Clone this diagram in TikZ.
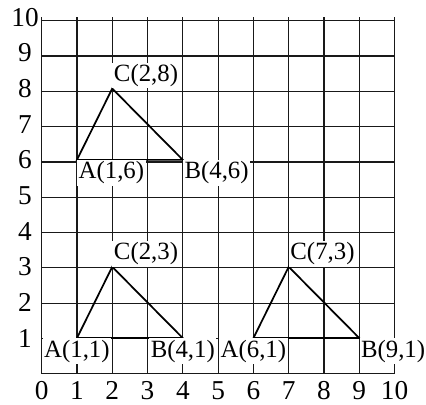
\documentclass[tikz,border=0pt]{standalone}
\usepackage{fontspec}
\setmainfont{Liberation Serif}
\usetikzlibrary{positioning}
\tikzset{
	gridline/.style={line width=1pt, draw=black!90},
	tri/.style={line width=1.4pt, draw=black},
	axisnum/.style={font=\fontsize{22}{22}\selectfont, inner sep=0pt},
	ptlabel/.style={font=\fontsize{20}{20}\selectfont, fill=white, inner sep=1.2pt},
}

\begin{document}
\begin{tikzpicture}[x=1cm, y=1.01cm]
		\useasboundingbox (-1.18,-0.85) rectangle (10.89,10.485);
		\draw[gridline] (0,0) grid (10,10);
		\foreach \n in {0,...,10}
			\node[axisnum] (xnum\n) at (\n,-0.48) {\n};
		\foreach \n in {1,...,10}
			\node[axisnum] (ynum\n) at (-0.47,\n) {\n};
		% upper triangle
		\coordinate (A1) at (1,6);
		\coordinate (B1) at (4,6);
		\coordinate (C1) at (2,8);
		% lower left triangle
		\coordinate (A2) at (1,1);
		\coordinate (B2) at (4,1);
		\coordinate (C2) at (2,3);
		% lower right triangle
		\coordinate (A3) at (6,1);
		\coordinate (B3) at (9,1);
		\coordinate (C3) at (7,3);
		\draw[tri] (A1) -- (B1) -- (C1) -- cycle;
		\draw[tri] (A2) -- (B2) -- (C2) -- cycle;
		\draw[tri] (A3) -- (B3) -- (C3) -- cycle;
		\node[ptlabel, anchor=north west] (la1) at (A1) {A(1,6)};
		\node[ptlabel, anchor=north west] (lb1) at (B1) {B(4,6)};
		\node[ptlabel, anchor=south west] (lc1) at (C1) {C(2,8)};
		\node[ptlabel, anchor=north] (la2) at (A2) {A(1,1)};
		\node[ptlabel, anchor=north] (lb2) at (B2) {B(4,1)};
		\node[ptlabel, anchor=south west] (lc2) at (C2) {C(2,3)};
		\node[ptlabel, anchor=north] (la3) at (A3) {A(6,1)};
		\node[ptlabel, anchor=north west] (lb3) at (B3) {B(9,1)};
		\node[ptlabel, anchor=south west] (lc3) at (C3) {C(7,3)};
	\end{tikzpicture}
\end{document}
